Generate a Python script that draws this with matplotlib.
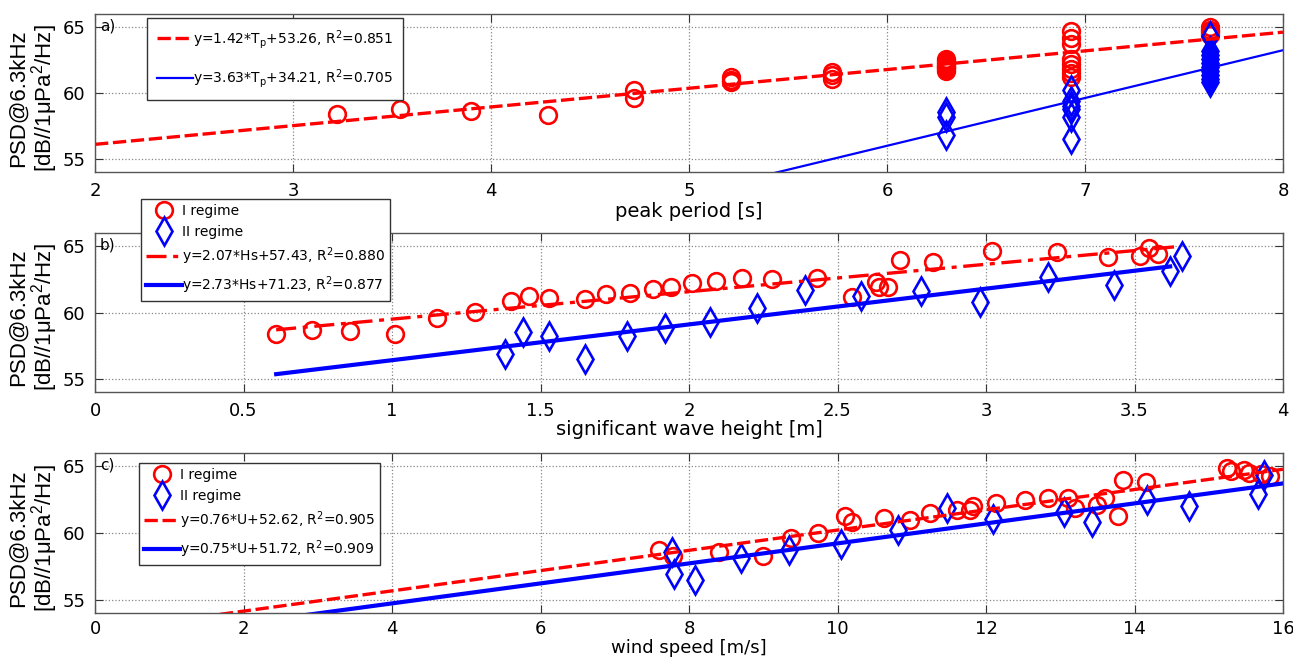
import matplotlib
matplotlib.use("Agg")
import matplotlib.pyplot as plt
import numpy as np

plt.rcParams['font.family'] = ['DejaVu Sans']
plt.rcParams['mathtext.default'] = 'regular'

# ---------------- data ----------------
# panel a: peak period
tp_I = [3.22, 3.54, 3.90, 4.29, 4.72, 4.72,
        5.21, 5.21, 5.21, 5.72, 5.72, 5.72,
        6.30, 6.30, 6.30, 6.30, 6.30, 6.30, 6.30, 6.30,
        6.93, 6.93, 6.93, 6.93, 6.93, 6.93, 6.93, 6.93,
        7.63, 7.63, 7.63, 7.63]
psd_a_I = [58.4, 58.75, 58.6, 58.35, 60.2, 59.6,
           61.2, 61.0, 60.8, 61.6, 61.35, 61.05,
           62.55, 62.4, 62.25, 62.1, 61.95, 61.8, 61.65, 62.0,
           64.7, 64.2, 63.7, 62.6, 62.2, 61.8, 61.5, 61.2,
           65.0, 64.8, 64.6, 64.4]
tp_II = [6.30, 6.30, 6.30,
         6.93, 6.93, 6.93, 6.93, 6.93, 6.93,
         7.63, 7.63, 7.63, 7.63, 7.63, 7.63, 7.63, 7.63, 7.63, 7.63]
psd_a_II = [58.55, 58.2, 56.8,
            60.2, 59.4, 59.0, 58.8, 58.2, 56.5,
            64.3, 63.2, 62.9, 62.6, 62.3, 62.0, 61.7, 61.4, 61.1, 60.8]
fit_a_I = (1.42, 53.26)
fit_a_II = (3.63, 34.21)
range_a = (2.0, 8.0)
label_a_I = r'y=1.42*T$_{p}$+53.26, R$^{2}$=0.851'
label_a_II = r'y=3.63*T$_{p}$+34.21, R$^{2}$=0.705'

# panel b: significant wave height
hs_I = [0.61, 0.73, 0.86, 1.01, 1.15, 1.28, 1.40, 1.46, 1.53, 1.65, 1.72, 1.80,
        1.88, 1.94, 2.01, 2.09, 2.18, 2.28, 2.43, 2.55, 2.63, 2.64, 2.67, 2.71,
        2.82, 3.02, 3.24, 3.41, 3.52, 3.55, 3.58]
psd_b_I = [58.4, 58.7, 58.6, 58.35, 59.6, 60.05, 60.85, 61.25, 61.1, 61.0, 61.4, 61.5,
           61.75, 61.95, 62.2, 62.4, 62.6, 62.55, 62.6, 61.2, 62.3, 61.9, 61.95, 64.0,
           63.8, 64.65, 64.6, 64.2, 64.3, 64.9, 64.45]
hs_II = [1.38, 1.44, 1.53, 1.65, 1.79, 1.92, 2.07, 2.23, 2.39, 2.58, 2.78, 2.98,
         3.21, 3.43, 3.62, 3.66]
psd_b_II = [56.85, 58.5, 58.25, 56.5, 58.25, 58.85, 59.25, 60.35, 61.7, 61.25, 61.65, 60.8,
            62.7, 62.05, 63.1, 64.3]
fit_b_I = (2.07, 57.43)
fit_b_II = (2.70, 53.70)   # line as drawn in the figure
range_b_I = (0.61, 3.65)
range_b_II = (0.61, 3.62)
label_b_I = r'y=2.07*Hs+57.43, R$^{2}$=0.880'
label_b_II = r'y=2.73*Hs+71.23, R$^{2}$=0.877'

# panel c: wind speed
u_I = [7.60, 7.78, 8.41, 9.00, 9.38, 9.74, 10.10, 10.20, 10.63, 10.98, 11.24, 11.61,
       11.78, 11.83, 12.14, 12.52, 12.83, 13.10, 13.20, 13.50, 13.60, 13.78, 13.85,
       14.15, 15.25, 15.30, 15.47, 15.54, 15.70, 15.83]
psd_c_I = [58.7, 58.3, 58.6, 58.25, 59.6, 60.0, 61.3, 60.8, 61.1, 61.0, 61.5, 61.7,
           61.7, 62.0, 62.25, 62.45, 62.6, 62.6, 61.9, 62.1, 62.6, 61.25, 64.0,
           63.8, 64.85, 64.65, 64.7, 64.5, 64.4, 64.25]
u_II = [7.77, 7.80, 8.08, 8.70, 9.35, 10.05, 10.82, 11.47, 12.09, 13.05, 13.43, 14.17,
        14.73, 15.66, 15.75]
psd_c_II = [58.55, 56.9, 56.45, 58.1, 58.75, 59.2, 60.2, 61.85, 61.05, 61.55, 60.85, 62.5,
            62.05, 62.9, 64.35]
fit_c_I = (0.76, 52.62)
fit_c_II = (0.75, 51.72)
range_c = (0.0, 16.0)
label_c_I = r'y=0.76*U+52.62, R$^{2}$=0.905'
label_c_II = r'y=0.75*U+51.72, R$^{2}$=0.909'

ylabel = 'PSD@6.3kHz\n[dB//1$\\mu$Pa$^{2}$/Hz]'
ytick_vals = [55, 60, 65]

# ---------------- figure ----------------
W, H = 1293, 659
fig = plt.figure(figsize=(W / 100, H / 100), dpi=100)
X0, X1 = 95, 1283

def ax_at(y0, y1):
    return fig.add_axes([X0 / W, 1 - y1 / H, (X1 - X0) / W, (y1 - y0) / H])

def xfrac(px):
    return (px - X0) / (X1 - X0)

RED = '#ff0000'
BLUE = '#0000ff'
ms_c, ms_d, mew = 12, 14, 1.9

def style(ax, xlim, xticks, xlabel, tag, lpad, xfs=14, xpad=7):
    ax.set_xlim(*xlim)
    ax.set_ylim(54, 66)
    ax.set_xticks(xticks)
    ax.set_yticks(ytick_vals)
    ax.grid(True, linestyle=':', color='#888888', linewidth=0.9)
    ax.tick_params(direction='in', top=True, right=True, length=6,
                   labelsize=13, color='#333333', pad=7)
    ax.tick_params(axis='x', pad=xpad)
    for s in ax.spines.values():
        s.set_color('#555555')
        s.set_linewidth(1.0)
    ax.set_xlabel(xlabel, fontsize=xfs, labelpad=lpad)
    ax.set_ylabel(ylabel, fontsize=16, family=['Liberation Sans', 'DejaVu Sans'],
                  linespacing=1.0)
    ax.yaxis.set_label_coords(xfrac(60), 0.47)
    ax.text(0.004, 0.925, tag, transform=ax.transAxes, fontsize=11,
            va='center', ha='left')

def fit_line(ax, coef, rng, **kw):
    xs = np.array(rng)
    return ax.plot(xs, coef[0] * xs + coef[1], **kw)[0]

leg_kw = dict(loc='upper left', fontsize=10, frameon=True, fancybox=False,
              edgecolor='#333333', framealpha=1, borderaxespad=0,
              handlelength=2.6, handletextpad=0.0)

# panel a
axa = ax_at(14, 172)
axa.plot(tp_I, psd_a_I, 'o', mfc='none', mec=RED, ms=ms_c, mew=mew)
axa.plot(tp_II, psd_a_II, 'd', mfc='none', mec=BLUE, ms=ms_d, mew=mew)
la1 = fit_line(axa, fit_a_I, range_a, color=RED, ls='--', lw=2.4, dashes=(4, 1.4))
la2 = fit_line(axa, fit_a_II, range_a, color=BLUE, ls='-', lw=1.6)
style(axa, (2, 8), np.arange(2, 9, 1), 'peak period [s]', 'a)', 2)
axa.legend([la1, la2], [label_a_I, label_a_II], bbox_to_anchor=(xfrac(147), 0.975),
           labelspacing=1.2, borderpad=0.7, **leg_kw)

# panel b
axb = ax_at(233, 392)
pb1, = axb.plot(hs_I, psd_b_I, 'o', mfc='none', mec=RED, ms=ms_c, mew=mew)
pb2, = axb.plot(hs_II, psd_b_II, 'd', mfc='none', mec=BLUE, ms=ms_d, mew=mew)
lb1 = fit_line(axb, fit_b_I, range_b_I, color=RED, ls='-.', lw=2.4, dashes=(6, 2, 1.5, 2))
lb2 = fit_line(axb, fit_b_II, range_b_II, color=BLUE, ls='-', lw=3.0)
style(axb, (0, 4), np.arange(0, 4.01, 0.5), 'significant wave height [m]', 'b)', 0)
axb.set_xticklabels(['0', '0.5', '1', '1.5', '2', '2.5', '3', '3.5', '4'])
axb.legend([pb1, pb2, lb1, lb2], ['I regime', 'II regime', label_b_I, label_b_II],
           bbox_to_anchor=(xfrac(141), 1.214), labelspacing=0.5, borderpad=0.35,
           **leg_kw)

# panel c
axc = ax_at(453, 613)
pc1, = axc.plot(u_I, psd_c_I, 'o', mfc='none', mec=RED, ms=ms_c, mew=mew)
pc2, = axc.plot(u_II, psd_c_II, 'd', mfc='none', mec=BLUE, ms=ms_d, mew=mew)
lc1 = fit_line(axc, fit_c_I, range_c, color=RED, ls='--', lw=2.4, dashes=(4, 1.4))
lc2 = fit_line(axc, fit_c_II, range_c, color=BLUE, ls='-', lw=3.0)
style(axc, (0, 16), np.arange(0, 17, 2), 'wind speed [m/s]', 'c)', 1, xfs=13, xpad=5)
axc.legend([pc1, pc2, lc1, lc2], ['I regime', 'II regime', label_c_I, label_c_II],
           bbox_to_anchor=(xfrac(139), 0.939), labelspacing=0.5, borderpad=0.35,
           **leg_kw)

# keep panel b's legend above panel a
axb.set_zorder(3)
axa.set_zorder(2)
axc.set_zorder(1)

fig.savefig('out.png', dpi=100)
